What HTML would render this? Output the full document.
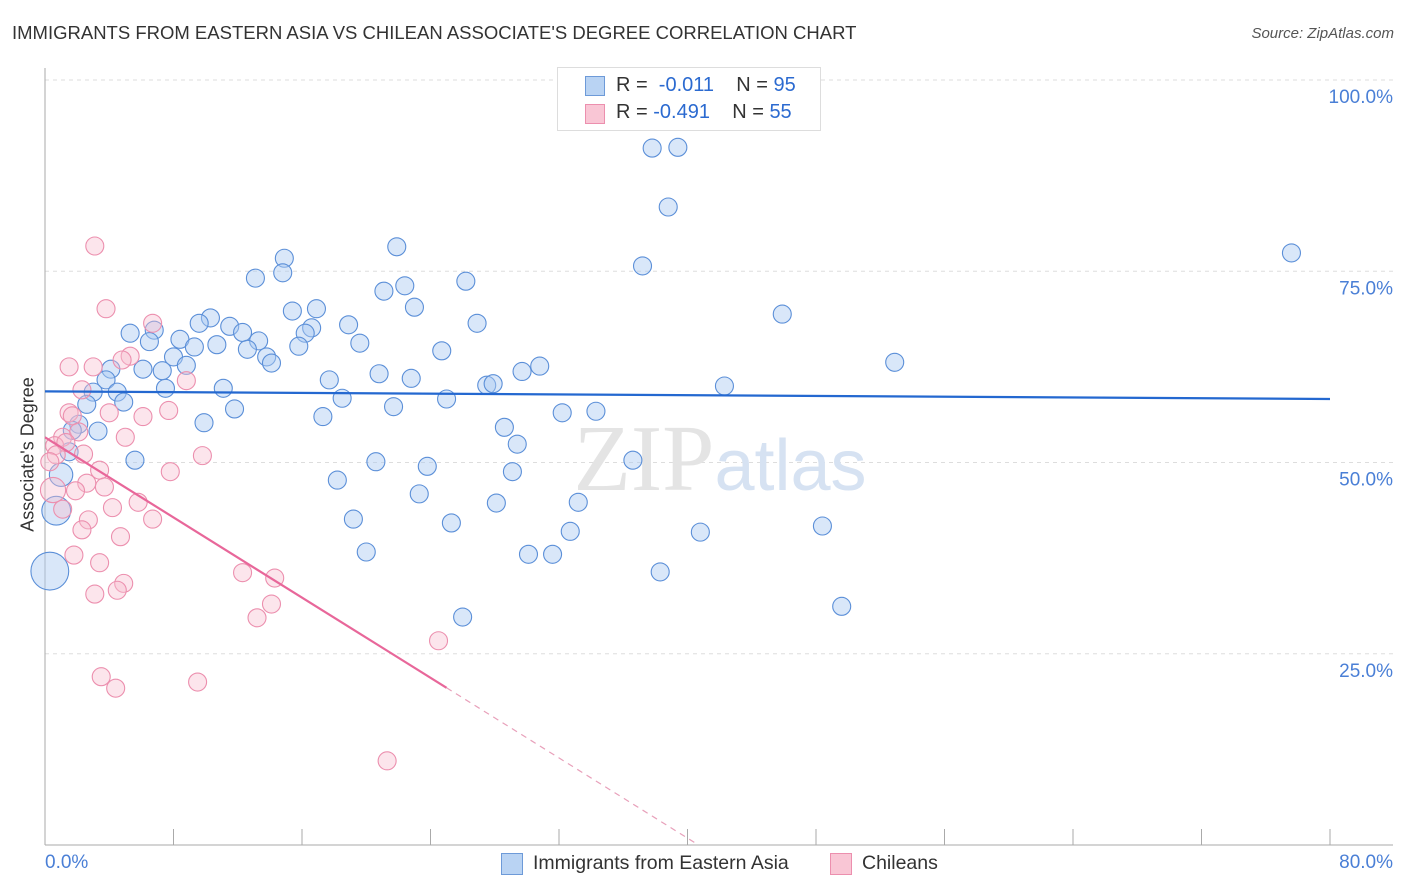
<!DOCTYPE html>
<html><head><meta charset="utf-8"><style>
body{margin:0;background:#fff;font-family:"Liberation Sans",sans-serif;}
#wrap{position:relative;width:1406px;height:892px;overflow:hidden}
.t{position:absolute;white-space:nowrap}
</style></head><body>
<div id="wrap">
<div class="t" style="left:12px;top:22px;font-size:18.5px;color:#333">IMMIGRANTS FROM EASTERN ASIA VS CHILEAN ASSOCIATE'S DEGREE CORRELATION CHART</div>
<div class="t" style="right:12px;top:25px;font-size:15px;color:#555;font-style:italic">Source: ZipAtlas.com</div>
<svg id="svg" width="1406" height="892" style="position:absolute;left:0;top:0"></svg>
</div>
<script>
const xTicks=[8,16,24,32,40,48,56,64,72,80];
const yTicks=[25,50,75,100];
const yTickLabels=["25.0%","50.0%","75.0%","100.0%"];
const blueX=[37.8,39.4,38.8,77.6,37.2,21.9,14.9,14.8,13.1,26.2,22.4,21.1,23.0,15.4,16.9,45.9,10.3,9.6,11.5,16.6,18.9,26.9,5.3,6.8,12.3,16.2,8.4,6.5,13.3,10.7,9.3,15.8,19.6,24.7,12.6,8.0,13.8,14.1,8.8,52.9,30.8,29.7,6.1,7.3,4.1,20.8,22.8,17.7,3.8,27.5,27.9,42.3,7.5,11.1,3.0,4.5,18.5,25.0,4.9,2.6,21.7,11.8,32.2,34.3,17.3,9.9,2.1,28.6,1.7,3.3,29.4,1.5,5.6,20.6,36.6,23.8,29.1,1.0,18.2,23.3,33.2,28.1,0.7,19.2,25.3,48.4,32.7,40.8,20.0,30.1,31.6,38.3,0.3,49.6,26.0];
const blueY=[91.1,91.2,83.4,77.4,75.7,78.2,76.7,74.8,74.1,73.7,73.1,72.4,70.3,69.8,70.1,69.4,68.9,68.2,67.8,67.6,68.0,68.2,66.9,67.3,67.0,66.9,66.1,65.8,65.9,65.4,65.1,65.2,65.6,64.6,64.8,63.8,63.8,63.0,62.7,63.1,62.6,61.9,62.2,62.0,62.2,61.6,61.0,60.8,60.8,60.1,60.3,60.0,59.7,59.7,59.2,59.2,58.4,58.3,57.9,57.6,57.3,57.0,56.5,56.7,56.0,55.2,55.0,54.6,54.2,54.1,52.4,51.4,50.3,50.1,50.3,49.5,48.8,48.4,47.7,45.9,44.8,44.7,43.7,42.6,42.1,41.7,41.0,40.9,38.3,38.0,38.0,35.7,35.8,31.2,29.8];
const blueSize=blueX.map((v,i)=>1);
blueSize[77]=1.3;blueSize[82]=1.6;blueSize[92]=2.1;
const pinkX=[3.1,3.8,6.7,5.3,3.0,1.5,4.8,8.8,2.3,1.5,4.0,6.1,7.7,1.7,1.1,2.1,5.0,0.6,1.3,0.7,2.4,0.3,9.8,3.4,7.8,2.6,3.7,1.9,0.5,5.8,4.2,1.1,2.7,6.7,2.3,4.7,1.8,3.4,4.9,4.5,3.1,12.3,14.3,14.1,13.2,24.5,3.5,4.4,9.5,21.3];
const pinkY=[78.3,70.1,68.2,63.9,62.5,62.5,63.4,60.7,59.5,56.5,56.5,56.0,56.8,56.1,53.3,54.0,53.3,52.2,52.6,51.0,51.1,50.1,50.9,49.0,48.8,47.3,46.8,46.3,46.4,44.8,44.1,43.9,42.5,42.6,41.2,40.3,37.9,36.9,34.2,33.3,32.8,35.6,34.9,31.5,29.7,26.7,22.0,20.5,21.3,11.0];
const pinkSize=pinkX.map(()=>1);pinkSize[28]=1.4;
const blueTrend=[59.3,58.3];
const pinkTrend=[53.3,-1.31];
const pinkSolidEnd=25.0;

const X0=45,X1=1330,Y0=845,Y1=80;
const xs=v=>X0+v/80*(X1-X0);
const ys=v=>Y0-v/100*(Y0-Y1);
const svg=document.getElementById('svg');
const NS='http://www.w3.org/2000/svg';
function mk(tag,attrs,parent){const e=document.createElementNS(NS,tag);for(const k in attrs)e.setAttribute(k,attrs[k]);(parent||svg).appendChild(e);return e;}
yTicks.forEach((t,i)=>{
 const g=mk('line',{x1:X0,x2:1393,y1:ys(t),y2:ys(t),stroke:'#ddd','stroke-dasharray':'4,4'});
 
 
 const tx=mk('text',{x:1393,y:ys(t)+23,'text-anchor':'end','font-size':19,fill:'#4a7fd6','font-family':'Liberation Sans'});
 tx.textContent=yTickLabels[i];
 
 
});
const ax=mk('line',{x1:X0,x2:X0,y1:68,y2:Y0,stroke:'#aaa'});


const bx=mk('line',{x1:X0,x2:1393,y1:Y0,y2:Y0,stroke:'#aaa'});


xTicks.forEach(v=>{
 const tk=mk('line',{x1:xs(v),x2:xs(v),y1:Y0,y2:Y0-16,stroke:'#aaa'});
 
 
});
const wm=mk('text',{x:720,y:490,'text-anchor':'middle','font-size':94,fill:'#e4e4e4','font-family':'Liberation Serif'});
wm.innerHTML='ZIP<tspan fill="#d6e2f2" font-family="Liberation Sans" font-size="72">atlas</tspan>';


blueX.forEach((v,i)=>{
 const c=mk('circle',{cx:xs(v),cy:ys(blueY[i]),r:9*blueSize[i],fill:'rgba(170,202,242,0.45)',stroke:'#5b8fd8','stroke-width':1.1});
 
 
});
pinkX.forEach((v,i)=>{
 const c=mk('circle',{cx:xs(v),cy:ys(pinkY[i]),r:9*pinkSize[i],fill:'rgba(248,190,208,0.4)',stroke:'#ec8fae','stroke-width':1.1});
 
 
});
const bl=mk('line',{x1:xs(0),y1:ys(blueTrend[0]),x2:xs(80),y2:ys(blueTrend[1]),stroke:'#2468d0','stroke-width':2.2});


const pz=-pinkTrend[0]/pinkTrend[1];
const pl=mk('line',{x1:xs(0),y1:ys(pinkTrend[0]),x2:xs(pinkSolidEnd),y2:ys(pinkTrend[0]+pinkTrend[1]*pinkSolidEnd),stroke:'#e8679a','stroke-width':2.2});


const pd=mk('line',{x1:xs(pinkSolidEnd),y1:ys(pinkTrend[0]+pinkTrend[1]*pinkSolidEnd),x2:xs(pz),y2:ys(0),stroke:'#e8a0ba','stroke-width':1.2,'stroke-dasharray':'6,5'});


</script>
<div class="t" style="left:-52px;top:444px;font-size:18px;color:#333;transform:rotate(-90deg);width:160px;text-align:center">Associate's Degree</div>
<div class="t" style="left:45px;top:852px;font-size:19px;color:#4a7fd6">0.0%</div>
<div class="t" style="right:13px;top:852px;font-size:19px;color:#4a7fd6">80.0%</div>
<div style="position:absolute;left:557px;top:67px;width:262px;height:62px;border:1px solid #ddd;background:#fff;font-size:20px;color:#333">
 <div style="position:absolute;left:27px;top:8px;width:18px;height:18px;background:#b9d3f3;border:1px solid #6d9ad8"></div>
 <div class="t" style="left:58px;top:6px">R = <span style="color:#2b6ad0">&nbsp;-0.011</span>&nbsp;&nbsp;&nbsp;&nbsp;N = <span style="color:#2b6ad0">95</span></div>
 <div style="position:absolute;left:27px;top:36px;width:18px;height:18px;background:#f9c6d5;border:1px solid #ec8fae"></div>
 <div class="t" style="left:58px;top:33px">R = <span style="color:#2b6ad0">-0.491</span>&nbsp;&nbsp;&nbsp;&nbsp;N = <span style="color:#2b6ad0">55</span></div>
</div>
<div style="position:absolute;left:500px;top:852px;font-size:19.5px;color:#333;width:460px;height:26px">
 <div style="position:absolute;left:0;top:0;width:300px">
  <div style="position:absolute;left:1px;top:1px;width:20px;height:20px;background:#b9d3f3;border:1px solid #6d9ad8"></div>
  <span class="t" style="left:33px;top:0">Immigrants from Eastern Asia</span></div>
 <div style="position:absolute;left:329px;top:0;width:130px">
  <div style="position:absolute;left:1px;top:1px;width:20px;height:20px;background:#f9c6d5;border:1px solid #ec8fae"></div>
  <span class="t" style="left:33px;top:0">Chileans</span></div>
</div>
</body></html>
